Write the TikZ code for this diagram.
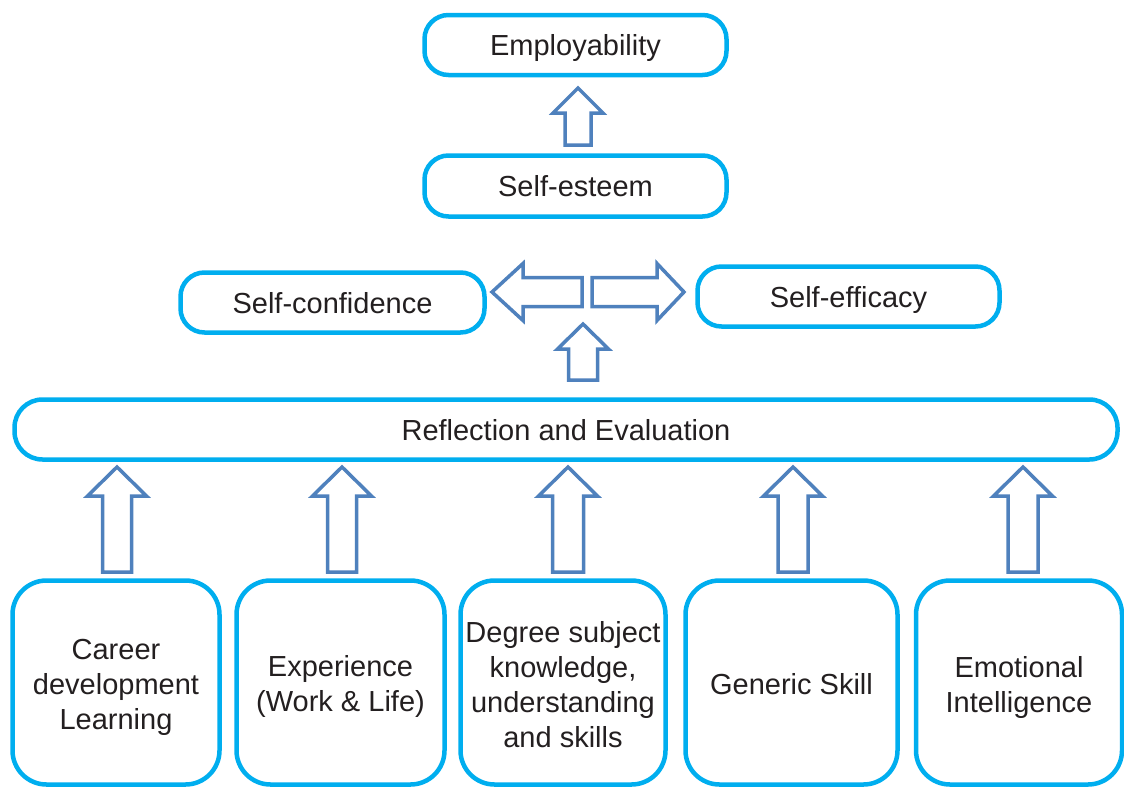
\documentclass[tikz,border=0pt]{standalone}
\usepackage{fontspec}
\setmainfont{Liberation Sans}
\definecolor{boxblue}{HTML}{00AEEF}
\definecolor{arrblue}{HTML}{4F81BD}
\definecolor{txt}{HTML}{231F20}
\tikzset{
  box/.style={draw=boxblue, line width=4.5, rounded corners=#1, fill=white,
    text=txt, align=center, inner sep=0pt, text height=21pt, text depth=0pt,
    font=\fontsize{29}{35}\selectfont},
  box/.default=24,
  tallbox/.style={draw=boxblue, line width=4.5, rounded corners=34, fill=white,
    inner sep=0pt, minimum height=204},
  lbl/.style={text=txt, align=center, inner sep=0pt, font=\fontsize{29}{35}\selectfont},
  arr/.style={draw=arrblue, line width=3.5, fill=white, line join=miter},
}
\newcommand\barrow[7]{%
  \draw[arr,shift={(#1,#2)},rotate=#3] (0,0) -- (-#5,-#6) -- (-#5,-#7) -- (-#4,-#7) -- (-#4,#7) -- (-#5,#7) -- (-#5,#6) -- cycle;}
\begin{document}
\begin{tikzpicture}[x=1pt,y=-1pt]
\useasboundingbox (0,0) rectangle (1124,787);
% boxes
\node[box, minimum width=302, minimum height=60] (emp) at (575.5,45) {Employability};
\node[box, minimum width=302, minimum height=61] (est) at (575.5,186) {Self-esteem};
\node[box, minimum width=304, minimum height=60] (conf) at (332.5,302.5) {Self-confidence};
\node[box, minimum width=302, minimum height=60] (eff) at (848.5,296.5) {Self-efficacy};
\node[box=28, minimum width=1103, minimum height=60] (refl) at (566,429.5) {Reflection and Evaluation};
\node[tallbox, minimum width=207] (b1) at (116,682.5) {};
\node[tallbox, minimum width=208] (b2) at (340.5,682.5) {};
\node[tallbox, minimum width=205] (b3) at (563,682.5) {};
\node[tallbox, minimum width=212] (b4) at (791.5,682.5) {};
\node[tallbox, minimum width=206] (b5) at (1019,682.5) {};
\node[lbl] (b1t) at ([yshift=-5pt]b1.center) {Career\\development\\Learning};
\node[lbl] (b2t) at ([yshift=-4pt]b2.center) {Experience\\(Work \& Life)};
\node[lbl] (b3t) at ([yshift=-2.5pt]b3.center) {Degree subject\\knowledge,\\understanding\\and skills};
\node[lbl] (b4t) at ([yshift=-2pt]b4.center) {Generic Skill};
\node[lbl] (b5t) at ([yshift=-5pt]b5.center) {Emotional\\Intelligence};
% block arrows: x, y (tip), angle, length, head length, head half-width, shaft half-width
\barrow{578}{88}{90}{57}{25}{25}{13}
\barrow{583}{324}{90}{56}{25}{25.5}{14.5}
\barrow{492}{292}{180}{90}{31}{28.5}{14.5}
\barrow{684}{292}{0}{92}{27}{28.5}{14.5}
\barrow{117}{467}{90}{105}{29}{29.5}{14.5}
\barrow{342}{467}{90}{105}{29}{29.5}{14.5}
\barrow{568}{467}{90}{105}{29}{29.5}{15.5}
\barrow{793}{467}{90}{105}{29}{29.5}{15}
\barrow{1023}{467}{90}{105}{29}{29.5}{15}
\end{tikzpicture}
\end{document}
